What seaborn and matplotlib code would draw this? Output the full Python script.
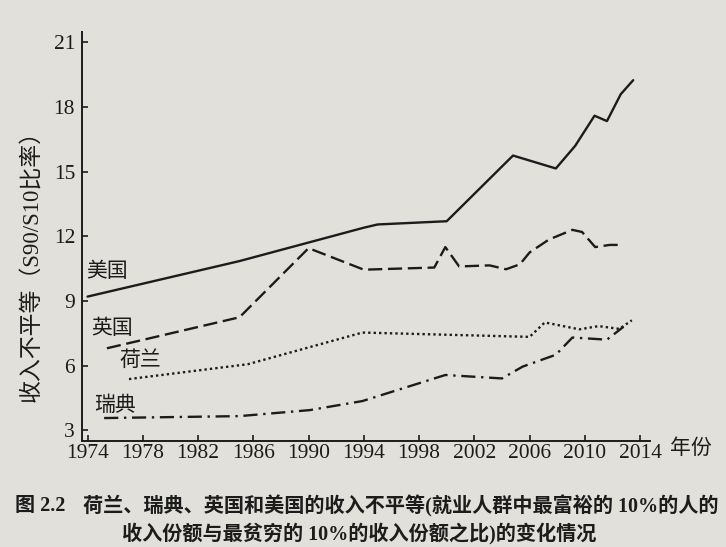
import pandas as pd
import matplotlib.pyplot as plt
import seaborn as sns

# values
US_YEARS = [1974, 1985, 1994, 1995, 2000, 2004.8, 2007.9, 2009.3, 2010, 2010.7, 2011.6, 2012.6, 2013.5]
US_VALUES = [9.2, 10.85, 12.4, 12.55, 12.7, 15.75, 15.15, 16.2, 16.9, 17.6, 17.35, 18.6, 19.25]

UK_YEARS = [1975.4, 1985, 1990, 1994, 1999.1, 1999.9, 2000.9, 2003.1, 2004.3, 2005.3,
            2006, 2007.4, 2009.1, 2009.8, 2010.75, 2011.8, 2012.7]
UK_VALUES = [6.8, 8.24, 11.45, 10.45, 10.55, 11.5, 10.6, 10.65, 10.47, 10.7,
             11.25, 11.85, 12.3, 12.2, 11.5, 11.6, 11.6]

NL_YEARS = [1977, 1985.6, 1993.9, 2006, 2007.1, 2009.6, 2011, 2012.5, 2013.4]
NL_VALUES = [5.37, 6.06, 7.53, 7.33, 8.0, 7.68, 7.83, 7.7, 8.1]

SE_YEARS = [1975.2, 1985, 1990.1, 1993.9, 1999.9, 2004, 2005.5, 2007.9, 2009.1, 2011.6, 2012.8]
SE_VALUES = [3.56, 3.65, 3.93, 4.35, 5.56, 5.4, 5.95, 6.5, 7.3, 7.2, 7.8]

COUNTRIES = ["美国", "英国", "荷兰", "瑞典"]
X_TICKS = list(range(1974, 2015, 4))
Y_TICKS = [3, 6, 9, 12, 15, 18, 21]

PAPER = "#e2e0da"
INK = "#1c1c1c"

DASHES = {
    "美国": "",
    "英国": (6, 2.4),
    "荷兰": (1, 1.3),
    "瑞典": (6, 2.4, 1, 2.4),
}

df = pd.concat([
    pd.DataFrame({"year": US_YEARS, "value": US_VALUES, "country": "美国"}),
    pd.DataFrame({"year": UK_YEARS, "value": UK_VALUES, "country": "英国"}),
    pd.DataFrame({"year": NL_YEARS, "value": NL_VALUES, "country": "荷兰"}),
    pd.DataFrame({"year": SE_YEARS, "value": SE_VALUES, "country": "瑞典"}),
])

sns.set_style("ticks")
plt.rcParams["font.family"] = ["Liberation Serif", "Noto Sans CJK SC"]

fig = plt.figure(figsize=(7.26, 5.47), dpi=100, facecolor=PAPER)
ax = fig.add_axes([0.113, 0.194, 0.782, 0.748], facecolor=PAPER)

sns.lineplot(
    data=df,
    x="year",
    y="value",
    hue="country",
    style="country",
    hue_order=COUNTRIES,
    style_order=COUNTRIES,
    palette={c: INK for c in COUNTRIES},
    dashes=DASHES,
    estimator=None,
    errorbar=None,
    linewidth=1.7,
    legend=False,
    ax=ax,
)

ax.set_xlim(1973.6, 2014.7)
ax.set_ylim(2.5, 21.5)
ax.set_xticks(X_TICKS)
ax.set_yticks(Y_TICKS)
ax.set_xlabel("")
ax.set_ylabel("")
ax.tick_params(direction="in", length=4.5, width=1.2, colors=INK, labelsize=15.5)
ax.tick_params(axis="x", pad=2)
ax.tick_params(axis="y", pad=5)
for side in ["top", "right"]:
    ax.spines[side].set_visible(False)
for side in ["left", "bottom"]:
    ax.spines[side].set_color(INK)
    ax.spines[side].set_linewidth(1.4)

cjk = ["Noto Sans CJK SC", "DejaVu Sans"]
label_pos = {
    "美国": (1975.4, 10.37),
    "英国": (1975.8, 7.73),
    "荷兰": (1977.8, 6.25),
    "瑞典": (1976.0, 4.16),
}
for name, (x, y) in label_pos.items():
    ax.text(x, y, name, ha="center", va="center", fontsize=15, color=INK, family=cjk)

fig.text(32 / 726, 1 - 260 / 547, "收入不平等（S90/S10比率）", rotation=90,
         ha="center", va="center", fontsize=16.5, color=INK)
fig.text(691 / 726, 1 - 448 / 547, "年份", ha="center", va="center",
         fontsize=15, color=INK, family=cjk)

fig.text(15 / 726, 1 - 506 / 547, "图 2.2", ha="left", va="center",
         fontsize=14.5, fontweight="bold", color=INK)
fig.text(83 / 726, 1 - 506 / 547,
         "荷兰、瑞典、英国和美国的收入不平等(就业人群中最富裕的 10%的人的",
         ha="left", va="center", fontsize=14.5, fontweight="bold", color=INK)
fig.text(122 / 726, 1 - 534 / 547,
         "收入份额与最贫穷的 10%的收入份额之比)的变化情况",
         ha="left", va="center", fontsize=14.5, fontweight="bold", color=INK)

fig.savefig("out.png", dpi=100, facecolor=PAPER)
